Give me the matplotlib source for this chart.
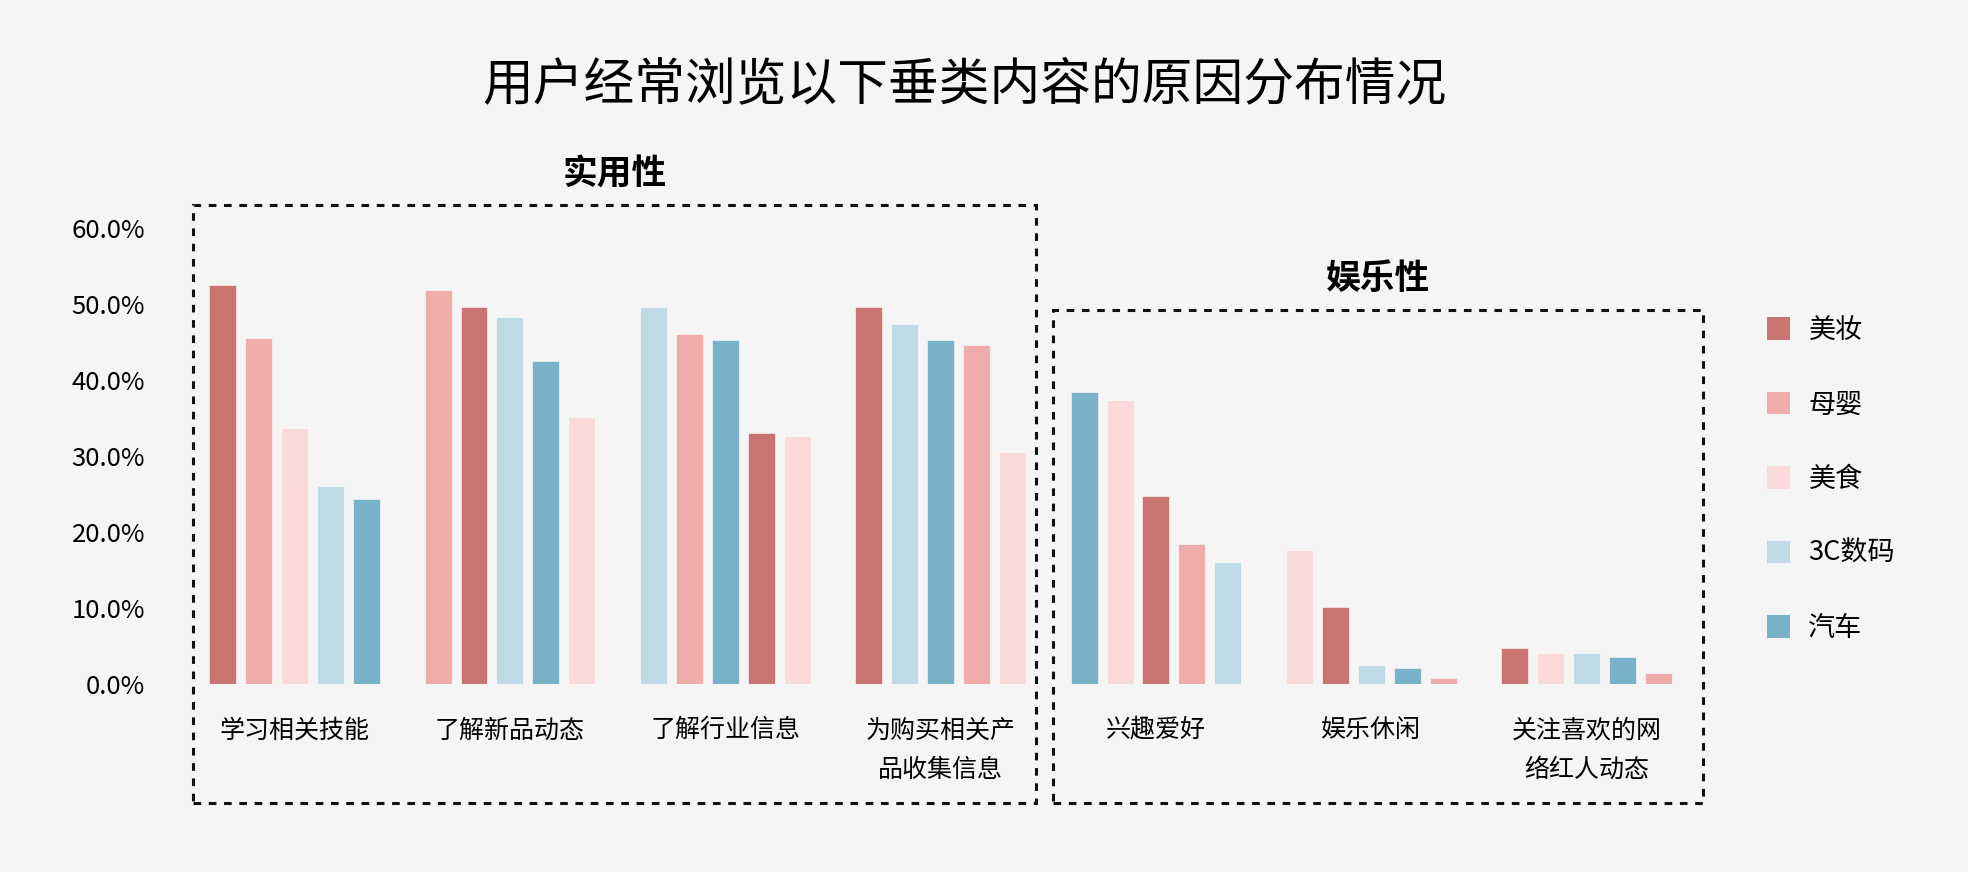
import numpy as np
import matplotlib.pyplot as plt
from matplotlib.patches import Rectangle, Patch

plt.rcParams['font.family'] = ['Noto Sans CJK SC', 'DejaVu Sans']

reasons = ['学习相关技能', '了解新品动态', '了解行业信息', '为购买相关产\n品收集信息',
           '兴趣爱好', '娱乐休闲', '关注喜欢的网\n络红人动态']
series = ['美妆', '母婴', '美食', '3C数码', '汽车']
colors = ['#C97471', '#EEADAB', '#FADBDA', '#BEDAE4', '#79B1C8']

# percent values per category, one per reason
meizhuang = [52.6, 49.6, 33.1, 49.6, 24.8, 10.2, 4.8]
muying = [45.6, 51.9, 46.1, 44.6, 18.5, 0.8, 1.5]
meishi = [33.7, 35.2, 32.6, 30.6, 37.4, 17.7, 4.1]
digital = [26.1, 48.3, 49.6, 47.4, 16.0, 2.5, 4.1]
qiche = [24.3, 42.5, 45.3, 45.3, 38.5, 2.1, 3.6]

groups = ['实用性', '娱乐性']
group_sizes = [4, 3]

vals = np.array([meizhuang, muying, meishi, digital, qiche])
bg = '#F5F5F5'

fig = plt.figure(figsize=(19.68, 8.72), dpi=100, facecolor=bg)
ax = fig.add_axes([0.1041, 0.2156, 0.7477, 0.5225])
ax.set_facecolor(bg)

step = 6
for g in range(len(reasons)):
    order = np.argsort(-vals[:, g], kind='stable')
    for i, s in enumerate(order):
        ax.bar(g * step + i, vals[s, g], width=0.75, color=colors[s],
               edgecolor='white', linewidth=0.4)

ax.set_xlim(-0.5, (len(reasons) - 1) * step + 4.5)
ax.set_ylim(0, 60)
ax.set_yticks(np.arange(0, 61, 10))
ax.set_yticklabels([f'{v:.1f}%' for v in np.arange(0, 61, 10)], fontsize=18.5)
ax.tick_params(axis='y', length=0, pad=43)
ax.set_xticks([g * step + 2 for g in range(len(reasons))])
ax.set_xticklabels(reasons, fontsize=18, linespacing=1.68, va='top')
ax.tick_params(axis='x', length=0, pad=24)
for sp in ax.spines.values():
    sp.set_visible(False)

# dashed boxes around the two reason groups
tops = [63.1, 49.3]
start = 0
for name, n, top in zip(groups, group_sizes, tops):
    left = start * step - 0.82
    right = (start + n - 1) * step + 4.67
    if start > 0:
        left = start * step - 0.87
        right = (start + n - 1) * step + 5.24
    rect = Rectangle((left, -15.7), right - left, top + 15.7, fill=False,
                     ls=(0, (2.5, 2.5)), lw=2.2, ec='#111111', clip_on=False)
    ax.add_patch(rect)
    ax.text((left + right) / 2, top + 1.8, name, ha='center', va='bottom',
            fontsize=25, fontweight='bold')
    start += n

fig.text(0.4903, 0.902, '用户经常浏览以下垂类内容的原因分布情况', ha='center', va='center',
         fontsize=36.5)

handles = [Patch(facecolor=c, edgecolor='none') for c in colors]
fig.legend(handles, series, loc='upper left', bbox_to_anchor=(0.891, 0.652),
           frameon=False, fontsize=19.5, handlelength=0.83, handleheight=0.91,
           labelspacing=1.75, handletextpad=0.7, borderpad=0)

fig.savefig('out.png', dpi=100, facecolor=bg)
